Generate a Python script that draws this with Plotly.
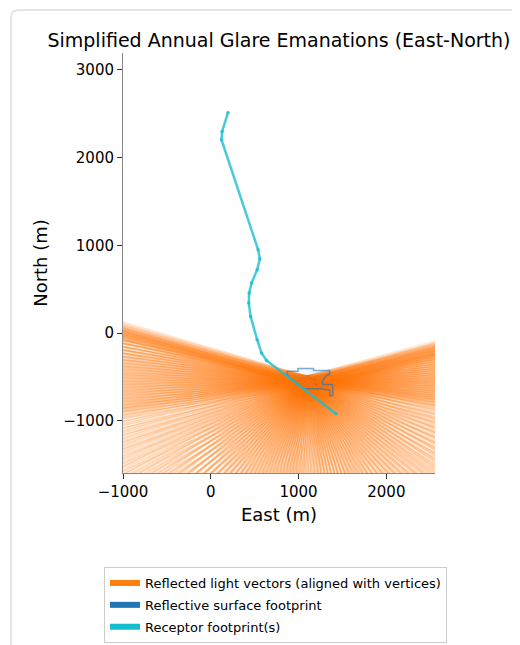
import math
import plotly.graph_objects as go

# ---------------- data ----------------
# Reflective surface footprint outline (East m, North m)
surface_east = [867, 992, 992, 1171, 1171, 1354, 1354, 1320, 1290, 1274, 1274, 1389,
                1389, 1354, 1354, 1300, 1274, 1057, 1012, 960, 898, 867, 867]
surface_north = [-435, -435, -404, -404, -427, -427, -473, -484, -519, -542, -588, -588,
                 -715, -715, -646, -646, -634, -634, -600, -560, -510, -473, -435]

# Receptor footprint path (East m, North m)
receptor_east = [197, 129, 122, 539, 559, 528, 464, 437, 433, 453, 528, 578, 635, 1425]
receptor_north = [2515, 2299, 2204, 950, 844, 722, 570, 456, 342, 189, -76, -228, -312, -920]

# Reflected light vector origins (East m, North m)
ray_origin_east = [1106, 1080, 1130, 1150, 1060, 1120, 1040, 1180, 1095, 1160, 1010, 1200]
ray_origin_north = [-533, -560, -510, -570, -520, -600, -580, -540, -490, -620, -545, -590]

# Reflected light vector azimuths (degrees, counter-clockwise from East)
ray_angles_deg = [
    15.5, 15, 14.5, 14, 13.5, 13, 12.5, 12, 11, 10, 9, 8, 7, 6, 5, 4, 3, 2, 1, 0,
    -1, -2, -3, -4, -5, -6, -7, -8, -9, -10, -12, -14, -16, -18, -20, -22, -24,
    -26, -28, -30, -32, -34, -36, -38, -40, -42, -44, -46, -48, -50, -52, -54,
    -56, -58, -60, -62, -64, -66, -68, -70, -72, -74, -76, -78, -80, -82, -84,
    -86, -88,
    163.5, 164, 164.5, 165, 165.5, 166, 166.5, 167, 168, 169, 170, 171, 172,
    173, 174, 175, 176, 177, 178, 179, 180, 181, 182, 183, 184, 185, 186, 187,
    188, 189, 190, 192, 194, 196, 198, 200, 202, 204, 206, 208, 210, 212, 214,
    216, 218, 220, 222, 224, 226, 228, 230, 232, 234, 236, 238, 240, 242, 244,
    246, 248, 250, 252, 254, 256, 258, 260, 262, 264, 266, 268,
]
ray_length = 9000

legend_names = ["Reflected light vectors (aligned with vertices)",
                "Reflective surface footprint",
                "Receptor footprint(s)"]
legend_colors = ["#ff7f0e", "#1f77b4", "#17becf"]

x_ticks = [-1000, 0, 1000, 2000]
y_ticks = [-1000, 0, 1000, 2000, 3000]
x_range = [-1000, 2554]
y_range = [-1596, 3193]

# ---------------- figure ----------------
fig = go.Figure()
FONT = "DejaVu Sans, Verdana, sans-serif"

origins = list(zip(ray_origin_east, ray_origin_north))
for a in ray_angles_deg:
    r = math.radians(a)
    xs, ys = [], []
    for (vx, vy) in origins:
        xs += [vx, vx + ray_length * math.cos(r), None]
        ys += [vy, vy + ray_length * math.sin(r), None]
    fig.add_trace(go.Scatter(x=xs, y=ys, mode="lines",
                             line=dict(color="rgba(255,127,14,0.12)", width=1.3, simplify=False),
                             hoverinfo="skip", showlegend=False))

fig.add_trace(go.Scatter(x=surface_east, y=surface_north, mode="lines",
                         fill="toself", fillcolor="rgba(31,119,180,0.06)",
                         line=dict(color="rgba(31,119,180,0.6)", width=1.5),
                         hoverinfo="skip", showlegend=False))

fig.add_trace(go.Scatter(x=receptor_east, y=receptor_north, mode="lines+markers",
                         line=dict(color="rgba(23,190,207,0.8)", width=2.5),
                         marker=dict(color="rgba(23,190,207,0.8)", size=3.5),
                         hoverinfo="skip", showlegend=False))

for i, (nm, col) in enumerate(zip(legend_names, legend_colors)):
    fig.add_trace(go.Scatter(x=[None], y=[None], mode="none", fill="toself",
                             fillcolor=col, name=nm, legendgroup=f"g{i}",
                             showlegend=True))

# page body has an 8px margin, so figure is 8px smaller and all targets shift by 8
OFF = 8
W, H = 520 - OFF, 645 - OFF
L, R, T, B = 123 - OFF, 85, 53 - OFF, 172
pw, ph = W - L - R, H - T - B

def px2paper(px, py):
    px, py = px - OFF, py - OFF
    return (px - L) / pw, (H - B - py) / ph

x0, y0 = px2paper(11, 660)
x1, y1 = px2paper(11, 10)
x2, _ = px2paper(540, 10)
rx, ry = 8 / pw, 8 / ph
card = (f"M {x0},{y0} L {x1},{y1 - ry} Q {x1},{y1} {x1 + rx},{y1} L {x2},{y1}")

lx, ly = px2paper(104, 567)

fig.update_layout(
    width=W, height=H,
    margin=dict(l=L, r=R, t=T, b=B, autoexpand=False),
    paper_bgcolor="white", plot_bgcolor="white",
    font=dict(family=FONT, color="#000"),
    title=dict(text="Simplified Annual Glare Emanations (East-North)",
               x=0.5, xref="paper", xanchor="center",
               y=1 - (40 - OFF) / H, yanchor="middle",
               font=dict(size=19, family=FONT, color="#000")),
    xaxis=dict(range=x_range, tickvals=x_ticks, ticks="outside", ticklen=5,
               tickcolor="#333", showline=True, linecolor="#888", linewidth=1,
               showgrid=False, zeroline=False, mirror=False, automargin=False,
               tickfont=dict(size=15, family=FONT, color="#000"),
               title=dict(text="East (m)", font=dict(size=18, family=FONT, color="#000"),
                          standoff=8)),
    yaxis=dict(range=y_range, tickvals=y_ticks, ticks="outside", ticklen=5,
               tickcolor="#333", showline=True, linecolor="#888", linewidth=1,
               showgrid=False, zeroline=False, mirror=False, automargin=False,
               tickfont=dict(size=15, family=FONT, color="#000"),
               title=dict(text="North (m)", font=dict(size=18, family=FONT, color="#000"),
                          standoff=10)),
    showlegend=True,
    legend=dict(x=lx, y=ly, xanchor="left", yanchor="top",
                bgcolor="white", bordercolor="#cccccc", borderwidth=1,
                font=dict(size=13, family=FONT, color="#000"),
                tracegroupgap=2, itemsizing="constant"),
    shapes=[dict(type="path", path=card, xref="paper", yref="paper",
                 line=dict(color="#dddddd", width=1.5), layer="below")],
)

fig.write_html("out.html")
